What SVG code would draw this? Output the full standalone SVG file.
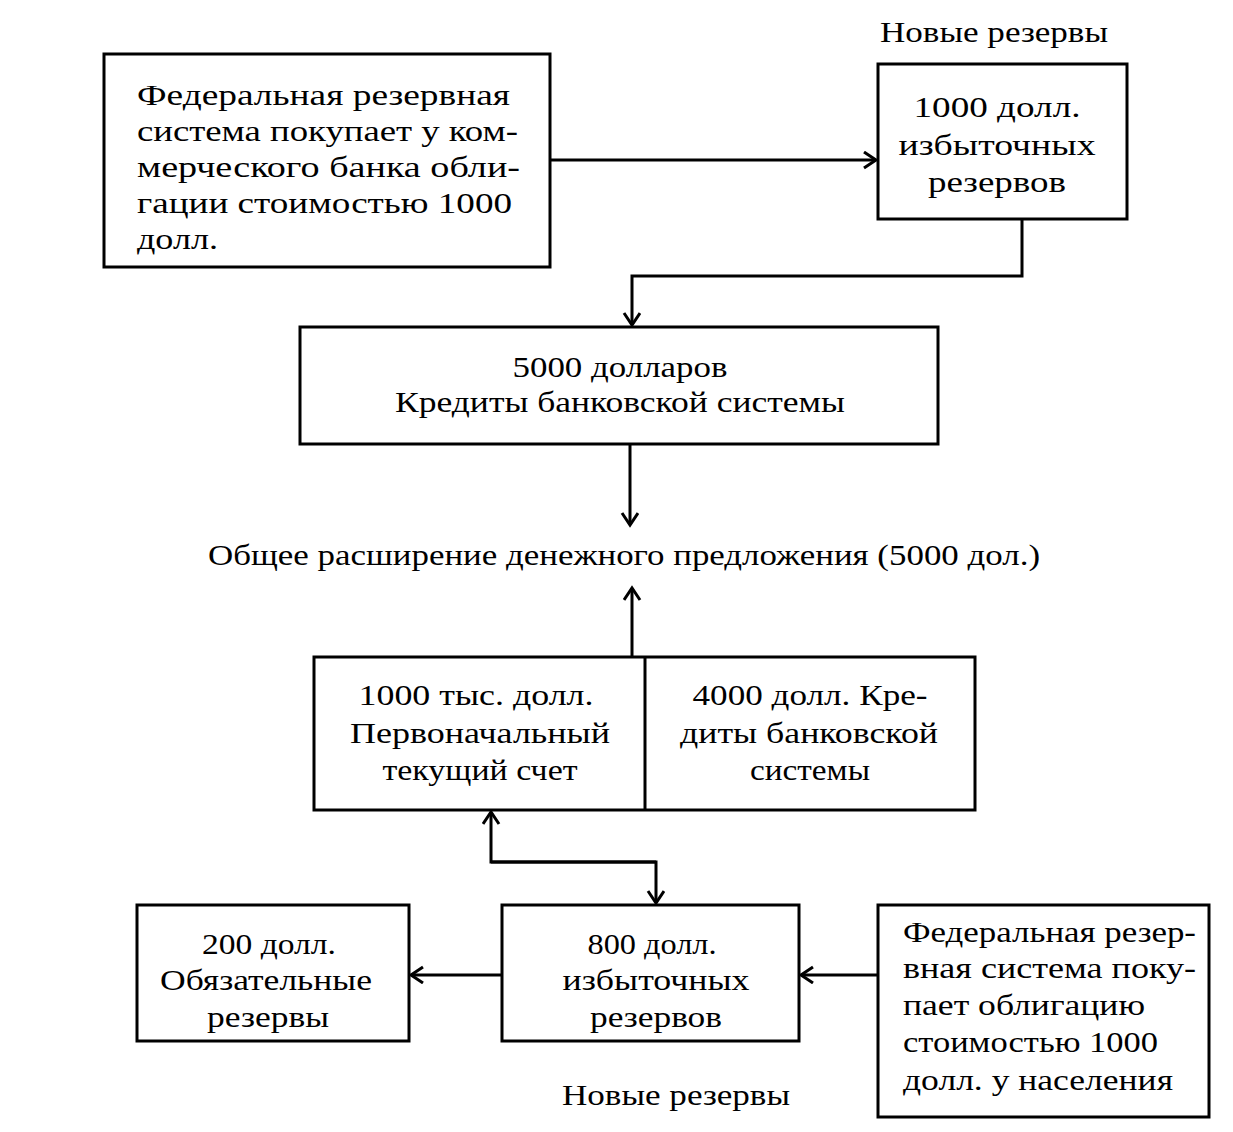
<svg xmlns="http://www.w3.org/2000/svg" width="1233" height="1132" viewBox="0 0 1233 1132">
<style>
.box{fill:#fff;stroke:#000;stroke-width:3}
.t{font-family:"Liberation Serif","Times New Roman",serif;font-size:30px;fill:#000}
.c{text-anchor:middle}
.ln{fill:none;stroke:#000;stroke-width:3}
</style>
<defs>
<marker id="ah" markerUnits="userSpaceOnUse" markerWidth="20" markerHeight="20" refX="14" refY="9" orient="auto">
<path d="M2,1 L14,9 L2,17" fill="none" stroke="#000" stroke-width="3"/>
</marker>
</defs>
<rect width="1233" height="1132" fill="#fff"/>
<g id="connectors">
<line class="ln" x1="550" y1="160" x2="876" y2="160" marker-end="url(#ah)"/>
<polyline class="ln" points="1022,219 1022,276 632,276 632,325" marker-end="url(#ah)"/>
<line class="ln" x1="630" y1="444" x2="630" y2="525" marker-end="url(#ah)"/>
<line class="ln" x1="632" y1="657" x2="632" y2="588" marker-end="url(#ah)"/>
<polyline class="ln" points="656,862 491,862 491,812" marker-end="url(#ah)"/>
<polyline class="ln" points="491,862 656,862 656,903" marker-end="url(#ah)"/>
<line class="ln" x1="502" y1="975" x2="411" y2="975" marker-end="url(#ah)"/>
<line class="ln" x1="878" y1="975" x2="801" y2="975" marker-end="url(#ah)"/>
</g>
<g id="node-fed">
<rect class="box" x="104" y="54" width="446" height="213"/>
<text class="t" x="137" y="105" textLength="373" lengthAdjust="spacingAndGlyphs">Федеральная   резервная</text>
<text class="t" x="137" y="141" textLength="381" lengthAdjust="spacingAndGlyphs">система покупает у ком-</text>
<text class="t" x="137" y="177" textLength="383" lengthAdjust="spacingAndGlyphs">мерческого  банка  обли-</text>
<text class="t" x="137" y="213" textLength="375" lengthAdjust="spacingAndGlyphs">гации  стоимостью  1000</text>
<text class="t" x="137" y="249" textLength="81" lengthAdjust="spacingAndGlyphs">долл.</text>
</g>
<g id="label-new-top">
<text class="t c" x="994" y="42" textLength="228" lengthAdjust="spacingAndGlyphs">Новые резервы</text>
</g>
<g id="node-excess1000">
<rect class="box" x="878" y="64" width="249" height="155"/>
<text class="t c" x="997" y="117" textLength="167" lengthAdjust="spacingAndGlyphs">1000 долл.</text>
<text class="t c" x="997" y="155" textLength="197" lengthAdjust="spacingAndGlyphs">избыточных</text>
<text class="t c" x="997" y="192" textLength="138" lengthAdjust="spacingAndGlyphs">резервов</text>
</g>
<g id="node-credit5000">
<rect class="box" x="300" y="327" width="638" height="117"/>
<text class="t c" x="620" y="377" textLength="215" lengthAdjust="spacingAndGlyphs">5000 долларов</text>
<text class="t c" x="620" y="412" textLength="450" lengthAdjust="spacingAndGlyphs">Кредиты банковской системы</text>
</g>
<g id="label-total">
<text class="t c" x="624" y="565" textLength="832" lengthAdjust="spacingAndGlyphs">Общее расширение денежного предложения (5000 дол.)</text>
</g>
<g id="node-split">
<rect class="box" x="314" y="657" width="661" height="153"/>
<line class="ln" x1="645" y1="657" x2="645" y2="810"/>
<text class="t c" x="476" y="705" textLength="235" lengthAdjust="spacingAndGlyphs">1000 тыс. долл.</text>
<text class="t c" x="480" y="743" textLength="260" lengthAdjust="spacingAndGlyphs">Первоначальный</text>
<text class="t c" x="480" y="780" textLength="195" lengthAdjust="spacingAndGlyphs">текущий счет</text>
<text class="t c" x="810" y="705" textLength="235" lengthAdjust="spacingAndGlyphs">4000 долл. Кре-</text>
<text class="t c" x="809" y="743" textLength="258" lengthAdjust="spacingAndGlyphs">диты банковской</text>
<text class="t c" x="810" y="780" textLength="120" lengthAdjust="spacingAndGlyphs">системы</text>
</g>
<g id="node-required200">
<rect class="box" x="137" y="905" width="272" height="136"/>
<text class="t c" x="269" y="954" textLength="134" lengthAdjust="spacingAndGlyphs">200 долл.</text>
<text class="t c" x="266" y="990" textLength="212" lengthAdjust="spacingAndGlyphs">Обязательные</text>
<text class="t c" x="268" y="1027" textLength="122" lengthAdjust="spacingAndGlyphs">резервы</text>
</g>
<g id="node-excess800">
<rect class="box" x="502" y="905" width="297" height="136"/>
<text class="t c" x="652" y="954" textLength="129" lengthAdjust="spacingAndGlyphs">800 долл.</text>
<text class="t c" x="656" y="990" textLength="187" lengthAdjust="spacingAndGlyphs">избыточных</text>
<text class="t c" x="656" y="1027" textLength="132" lengthAdjust="spacingAndGlyphs">резервов</text>
</g>
<g id="node-fed-public">
<rect class="box" x="878" y="905" width="331" height="212"/>
<text class="t" x="903" y="942" textLength="293" lengthAdjust="spacingAndGlyphs">Федеральная резер-</text>
<text class="t" x="903" y="978" textLength="293" lengthAdjust="spacingAndGlyphs">вная система поку-</text>
<text class="t" x="903" y="1015" textLength="242" lengthAdjust="spacingAndGlyphs">пает облигацию</text>
<text class="t" x="903" y="1052" textLength="255" lengthAdjust="spacingAndGlyphs">стоимостью 1000</text>
<text class="t" x="903" y="1090" textLength="270" lengthAdjust="spacingAndGlyphs">долл.  у населения</text>
</g>
<g id="label-new-bottom">
<text class="t c" x="676" y="1105" textLength="228" lengthAdjust="spacingAndGlyphs">Новые резервы</text>
</g>
</svg>
